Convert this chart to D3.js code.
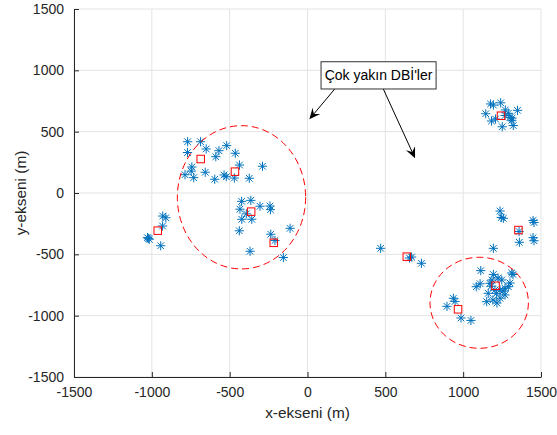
<!DOCTYPE html>
<html>
<head>
<meta charset="utf-8">
<script src="https://cdn.jsdelivr.net/npm/d3@7"></script>
<style>
  html, body { margin: 0; padding: 0; background: #fff; }
  svg { display: block; font-family: "Liberation Sans", Arial, Helvetica, sans-serif; }
</style>
</head>
<body>
<svg id="chart" width="557" height="435"></svg>
<script>
// ---- data ----
const xTicks = [-1500, -1000, -500, 0, 500, 1000, 1500];
const yTicks = [-1500, -1000, -500, 0, 500, 1000, 1500];
const xTickLabels = ["-1500", "-1000", "-500", "0", "500", "1000", "1500"];
const yTickLabels = ["-1500", "-1000", "-500", "0", "500", "1000", "1500"];

// users (blue asterisks)
const userX = [
  -770, -687, -651, -771, -569, -519, -589, -464, -743, -747, -787, -731, -657, -596, -536, -522, -470, -437, -374, -289,
  -423, -364, -434, -393, -305, -241, -238, -422, -358, -438, -236, -112, -209, -369, -155,
  -930, -910, -931, -1028, -1016, -943, -1022,
  1176, 1194, 1241, 1145, 1271, 1349, 1301, 1312, 1182, 1208, 1251, 1322, 1269, 1290, 1314,
  470, 1237, 1245, 1258, 1449, 1455, 1359, 1361, 1449, 1455, 1194, 669, 732, 655,
  1113, 1194, 1312, 1320, 1084, 1109, 1172, 1248, 1290, 1161, 1215, 1269, 1237, 1151, 1204, 1269,
  937, 948, 896, 986, 1050, 1224, 1185, 1237, 1301, 1191, 1217, 1180, 1255
];
const userY = [
  418, 418, 359, 330, 345, 386, 296, 324, 212, 178, 149, 125, 169, 112, 147, 133, 122, 228, 120, 218,
  -68, -60, -132, -170, -108, -106, -136, -214, -214, -308, -336, -288, -387, -475, -526,
  -188, -202, -269, -364, -377, -430, -370,
  726, 717, 735, 646, 677, 674, 616, 593, 587, 603, 540, 550, 632, 650, 611,
  -451, -147, -200, -206, -224, -240, -314, -402, -364, -389, -451, -522, -573, -530,
  -633, -664, -652, -664, -764, -740, -736, -709, -764, -818, -818, -831, -858, -886, -791, -777,
  -858, -884, -924, -1019, -1039, -693, -709, -791, -734, -872, -897, -760, -800
];

// base stations (red squares)
const bsX = [-686, -466, -362, -217, -962, 1243, 1355, 638, 1208, 967];
const bsY = [277, 174, -152, -406, -307, 630, -302, -519, -756, -948];

// dashed circles (centre and radii, data units)
const ringCx = [-424, 1103];
const ringCy = [-35, -895];
const ringRx = [412, 316];
const ringRy = [584, 371];

// annotation
const noteText = "Çok yakın DBİ'ler";
const noteBox = { x0: 87, x1: 826, y0: 1070, y1: 848 };
const arrowFrom = [[175, 848], [487, 848]];
const arrowTo = [[12, 601], [691, 283]];

// ---- layout ----
const svg = d3.select("#chart");
const L = 74, R = 541, T = 9, B = 377;
const x = d3.scaleLinear().domain([-1500, 1500]).range([L, R]);
const y = d3.scaleLinear().domain([-1500, 1500]).range([B, T]);
const axisColor = "#262626";
const gridColor = "#e3e3e3";

// grid
const g = svg.append("g");
g.selectAll("line.gx").data(xTicks).enter().append("line")
  .attr("x1", d => x(d)).attr("x2", d => x(d)).attr("y1", T).attr("y2", B)
  .attr("stroke", gridColor).attr("stroke-width", 1);
g.selectAll("line.gy").data(yTicks).enter().append("line")
  .attr("y1", d => y(d)).attr("y2", d => y(d)).attr("x1", L).attr("x2", R)
  .attr("stroke", gridColor).attr("stroke-width", 1);

// axes
const xAxis = d3.axisBottom(x).tickValues(xTicks).tickFormat((d, i) => xTickLabels[i])
  .tickSizeInner(-5).tickSizeOuter(0).tickPadding(10);
const yAxis = d3.axisLeft(y).tickValues(yTicks).tickFormat((d, i) => yTickLabels[i])
  .tickSizeInner(-5).tickSizeOuter(0).tickPadding(10);
const gx = svg.append("g").attr("transform", `translate(0,${B})`).call(xAxis);
const gy = svg.append("g").attr("transform", `translate(${L},0)`).call(yAxis);
[gx, gy].forEach(a => {
  a.select(".domain").attr("stroke", axisColor).attr("stroke-width", 1);
  a.selectAll(".tick line").attr("stroke", axisColor);
  a.selectAll(".tick text").attr("fill", axisColor).attr("font-size", "14px")
    .attr("font-family", "'Liberation Sans', Arial, sans-serif");
});
gx.selectAll(".tick text").attr("dy", "0.71em");

// axis labels
svg.append("text").attr("x", (L + R) / 2).attr("y", 418).attr("text-anchor", "middle")
  .attr("font-size", "15.4px").attr("fill", axisColor).text("x-ekseni (m)");
svg.append("text").attr("transform", `translate(26,${(T + B) / 2}) rotate(-90)`)
  .attr("text-anchor", "middle").attr("font-size", "15.4px").attr("fill", axisColor).text("y-ekseni (m)");

// plot clip
svg.append("clipPath").attr("id", "clip").append("rect")
  .attr("x", L).attr("y", T - 6).attr("width", R - L + 6).attr("height", B - T + 6);
const plot = svg.append("g").attr("clip-path", "url(#clip)");

// user asterisks
const r = 4.6, d = 3.3;
const star = `M${-r},0L${r},0M0,${-r}L0,${r}M${-d},${-d}L${d},${d}M${-d},${d}L${d},${-d}`;
plot.selectAll("path.user").data(d3.range(userX.length)).enter().append("path")
  .attr("d", star)
  .attr("transform", i => `translate(${x(userX[i])},${y(userY[i])})`)
  .attr("fill", "none").attr("stroke", "#0072BD").attr("stroke-width", 1);

// dashed rings
plot.selectAll("ellipse").data(d3.range(ringCx.length)).enter().append("ellipse")
  .attr("cx", i => x(ringCx[i])).attr("cy", i => y(ringCy[i]))
  .attr("rx", i => x(ringRx[i]) - x(0)).attr("ry", i => y(0) - y(ringRy[i]))
  .attr("fill", "none").attr("stroke", "#ff0000").attr("stroke-width", 1)
  .attr("stroke-dasharray", "7,4");

// base station squares
const s = 7.5;
plot.selectAll("rect.bs").data(d3.range(bsX.length)).enter().append("rect")
  .attr("x", i => x(bsX[i]) - s / 2).attr("y", i => y(bsY[i]) - s / 2)
  .attr("width", s).attr("height", s)
  .attr("fill", "none").attr("stroke", "#ff0000").attr("stroke-width", 1);

// annotation arrows
arrowFrom.forEach((f, k) => {
  const x0 = x(f[0]), y0 = y(f[1]), x1 = x(arrowTo[k][0]), y1 = y(arrowTo[k][1]);
  const ang = Math.atan2(y1 - y0, x1 - x0);
  const hl = 11, hw = 5, notch = 7;
  const ux = Math.cos(ang), uy = Math.sin(ang);
  const px = -uy, py = ux;
  svg.append("line").attr("x1", x0).attr("y1", y0)
    .attr("x2", x1 - ux * notch).attr("y2", y1 - uy * notch)
    .attr("stroke", "#000").attr("stroke-width", 1);
  const pts = [
    [x1, y1],
    [x1 - ux * hl + px * hw, y1 - uy * hl + py * hw],
    [x1 - ux * notch, y1 - uy * notch],
    [x1 - ux * hl - px * hw, y1 - uy * hl - py * hw]
  ];
  svg.append("path").attr("d", "M" + pts.map(p => p.join(",")).join("L") + "Z").attr("fill", "#000");
});

// annotation box
const bx0 = x(noteBox.x0), bx1 = x(noteBox.x1), by0 = y(noteBox.y0), by1 = y(noteBox.y1);
svg.append("rect").attr("x", bx0).attr("y", by0).attr("width", bx1 - bx0).attr("height", by1 - by0)
  .attr("fill", "#fff").attr("stroke", "#333").attr("stroke-width", 1);
svg.append("text").attr("x", (bx0 + bx1) / 2).attr("y", (by0 + by1) / 2 + 5)
  .attr("text-anchor", "middle").attr("font-size", "14px").attr("fill", "#000").text(noteText);
</script>
</body>
</html>
